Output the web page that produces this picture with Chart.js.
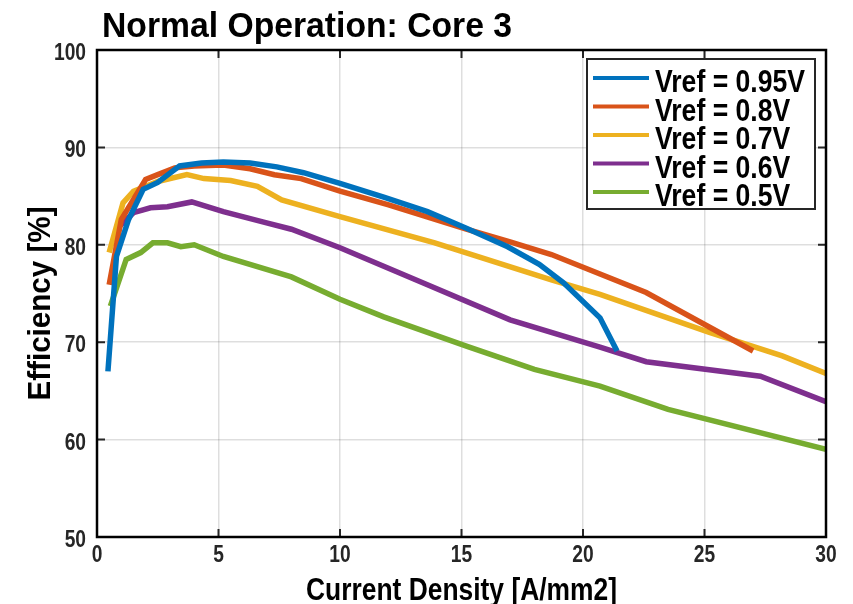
<!DOCTYPE html>
<html>
<head>
<meta charset="utf-8">
<script src="https://cdn.jsdelivr.net/npm/chart.js@4.4.0/dist/chart.umd.min.js"></script>
<style>
  html, body { margin: 0; padding: 0; background: #fff; }
</style>
</head>
<body>
<canvas id="chart" width="853" height="604"></canvas>
<script>
const FONT = '"Liberation Sans", Arial, sans-serif';

const chartTitle = 'Normal Operation: Core 3';
const xTitle = 'Current Density [A/mm2]';
const yTitle = 'Efficiency [%]';

const seriesLabels = ['Vref = 0.95V', 'Vref = 0.8V', 'Vref = 0.7V', 'Vref = 0.6V', 'Vref = 0.5V'];
const seriesColors = ['#0072BD', '#D95319', '#EDB120', '#7E2F8E', '#77AC30'];

// current density [A/mm2] and efficiency [%]
const x095 = [0.45, 0.8, 1.3, 1.9, 2.5, 3.4, 4.3, 5.2, 6.3, 7.4, 8.5, 10, 11.8, 13.6, 15.2, 16.9, 18.2, 19.2, 20.7, 21.4];
const y095 = [67, 78.8, 82.6, 85.7, 86.4, 88.1, 88.4, 88.5, 88.4, 88, 87.4, 86.3, 84.9, 83.4, 81.7, 79.8, 78, 76.1, 72.5, 69.1];

const x080 = [0.5, 1.0, 2.0, 2.5, 3.2, 4.0, 5.2, 6.3, 7.3, 8.4, 10, 12, 15.2, 17, 18.7, 20.7, 22.6, 27];
const y080 = [75.9, 82.6, 86.7, 87.2, 87.9, 88.1, 88.2, 87.8, 87.2, 86.8, 85.5, 84.1, 81.6, 80.3, 79, 77, 75.1, 69.1];

const x070 = [0.5, 1.07, 1.5, 2.5, 3.7, 4.4, 5.5, 6.6, 7.6, 10, 13.9, 18.7, 20.7, 25.2, 28.2, 30];
const y070 = [79.2, 84.3, 85.5, 86.5, 87.2, 86.8, 86.6, 86.0, 84.6, 82.9, 80.2, 76.4, 74.9, 71.0, 68.6, 66.8];

const x060 = [0.8, 1.5, 2.2, 2.9, 3.9, 5.2, 6.9, 8, 10, 13.5, 17, 20.7, 22.6, 27.3, 30];
const y060 = [81.6, 83.3, 83.8, 83.9, 84.4, 83.4, 82.3, 81.6, 79.7, 76, 72.3, 69.5, 68.0, 66.5, 63.9];

const x050 = [0.55, 1.2, 1.8, 2.3, 2.9, 3.45, 4.0, 5.2, 8, 10, 11.8, 15.2, 18, 20.7, 23.5, 30];
const y050 = [73.7, 78.5, 79.2, 80.2, 80.2, 79.8, 80.0, 78.8, 76.7, 74.4, 72.6, 69.6, 67.2, 65.5, 63.1, 59.0];

const seriesX = [x095, x080, x070, x060, x050];
const seriesY = [y095, y080, y070, y060, y050];

const datasets = seriesLabels.map((label, i) => ({
  label: label,
  data: seriesX[i].map((x, j) => ({ x: x, y: seriesY[i][j] })),
  borderColor: seriesColors[i],
  backgroundColor: seriesColors[i],
  borderWidth: 5.5,
  pointRadius: 0,
  tension: 0,
  fill: false
}));

// draw text squeezed horizontally (the original uses a narrow bold face)
function narrowText(ctx, text, x, y, size, sx, align) {
  ctx.save();
  ctx.font = 'bold ' + size + 'px ' + FONT;
  ctx.textAlign = align || 'left';
  ctx.textBaseline = 'alphabetic';
  ctx.translate(x, y);
  ctx.scale(sx, 1);
  ctx.fillText(text, 0, 0);
  ctx.restore();
}

function fitScale(ctx, text, size, width) {
  ctx.font = 'bold ' + size + 'px ' + FONT;
  return width / ctx.measureText(text).width;
}

// MATLAB style box, inward ticks, labels, title and legend
const matlabFrame = {
  id: 'matlabFrame',
  afterDraw(chart) {
    const ctx = chart.ctx;
    const a = chart.chartArea;
    const xs = chart.scales.x;
    const ys = chart.scales.y;
    ctx.save();
    ctx.strokeStyle = '#262626';
    ctx.lineWidth = 2;
    const tick = 8;
    ctx.beginPath();
    xs.ticks.forEach(t => {
      const px = xs.getPixelForValue(t.value);
      ctx.moveTo(px, a.bottom); ctx.lineTo(px, a.bottom - tick);
      ctx.moveTo(px, a.top); ctx.lineTo(px, a.top + tick);
    });
    ys.ticks.forEach(t => {
      const py = ys.getPixelForValue(t.value);
      ctx.moveTo(a.left, py); ctx.lineTo(a.left + tick, py);
      ctx.moveTo(a.right, py); ctx.lineTo(a.right - tick, py);
    });
    ctx.stroke();
    ctx.lineWidth = 2.5;
    ctx.strokeStyle = '#000';
    ctx.strokeRect(a.left, a.top, a.right - a.left, a.bottom - a.top);

    // tick labels
    ctx.fillStyle = '#262626';
    xs.ticks.forEach(t => {
      narrowText(ctx, t.label, xs.getPixelForValue(t.value), a.bottom + 25, 24, 0.8, 'center');
    });
    ys.ticks.forEach(t => {
      narrowText(ctx, t.label, a.left - 11, ys.getPixelForValue(t.value) + 10, 24, 0.8, 'right');
    });

    // axis titles
    ctx.fillStyle = '#000';
    narrowText(ctx, xTitle, (a.left + a.right) / 2, 600, 31, fitScale(ctx, xTitle, 31, 311), 'center');
    ctx.save();
    ctx.translate(a.left - 47, (a.top + a.bottom) / 2 + 10);
    ctx.rotate(-Math.PI / 2);
    narrowText(ctx, yTitle, 0, 0, 32, fitScale(ctx, yTitle, 32, 194), 'center');
    ctx.restore();

    // title
    narrowText(ctx, chartTitle, a.left + 5, 37, 35, fitScale(ctx, chartTitle, 35, 410), 'left');

    // legend
    const lx = 587, ly = 59, lw = 228, lh = 150;
    ctx.fillStyle = '#fff';
    ctx.fillRect(lx, ly, lw, lh);
    ctx.strokeStyle = '#262626';
    ctx.lineWidth = 2;
    ctx.strokeRect(lx, ly, lw, lh);
    const lsx = fitScale(ctx, chart.data.datasets[0].label, 32, 150);
    chart.data.datasets.forEach((ds, i) => {
      const cy = ly + 19 + i * 28.5;
      ctx.strokeStyle = ds.borderColor;
      ctx.lineWidth = 4;
      ctx.beginPath();
      ctx.moveTo(lx + 6, cy); ctx.lineTo(lx + 62, cy);
      ctx.stroke();
      ctx.fillStyle = '#000';
      narrowText(ctx, ds.label, lx + 68, cy + 14, 32, lsx, 'left');
    });
    ctx.restore();
  }
};

new Chart(document.getElementById('chart'), {
  type: 'line',
  data: { datasets: datasets },
  options: {
    responsive: false,
    animation: false,
    layout: { padding: { left: 97, right: 27, top: 50, bottom: 67 } },
    plugins: {
      legend: { display: false },
      title: { display: false },
      tooltip: { enabled: false }
    },
    scales: {
      x: {
        type: 'linear',
        min: 0, max: 30,
        ticks: { stepSize: 5, display: false },
        grid: { color: 'rgba(0,0,0,0.13)', lineWidth: 1.5, drawTicks: false },
        border: { display: false },
        title: { display: false }
      },
      y: {
        min: 50, max: 100,
        ticks: { stepSize: 10, display: false },
        grid: { color: 'rgba(0,0,0,0.13)', lineWidth: 1.5, drawTicks: false },
        border: { display: false },
        title: { display: false }
      }
    }
  },
  plugins: [matlabFrame]
});
</script>
</body>
</html>
